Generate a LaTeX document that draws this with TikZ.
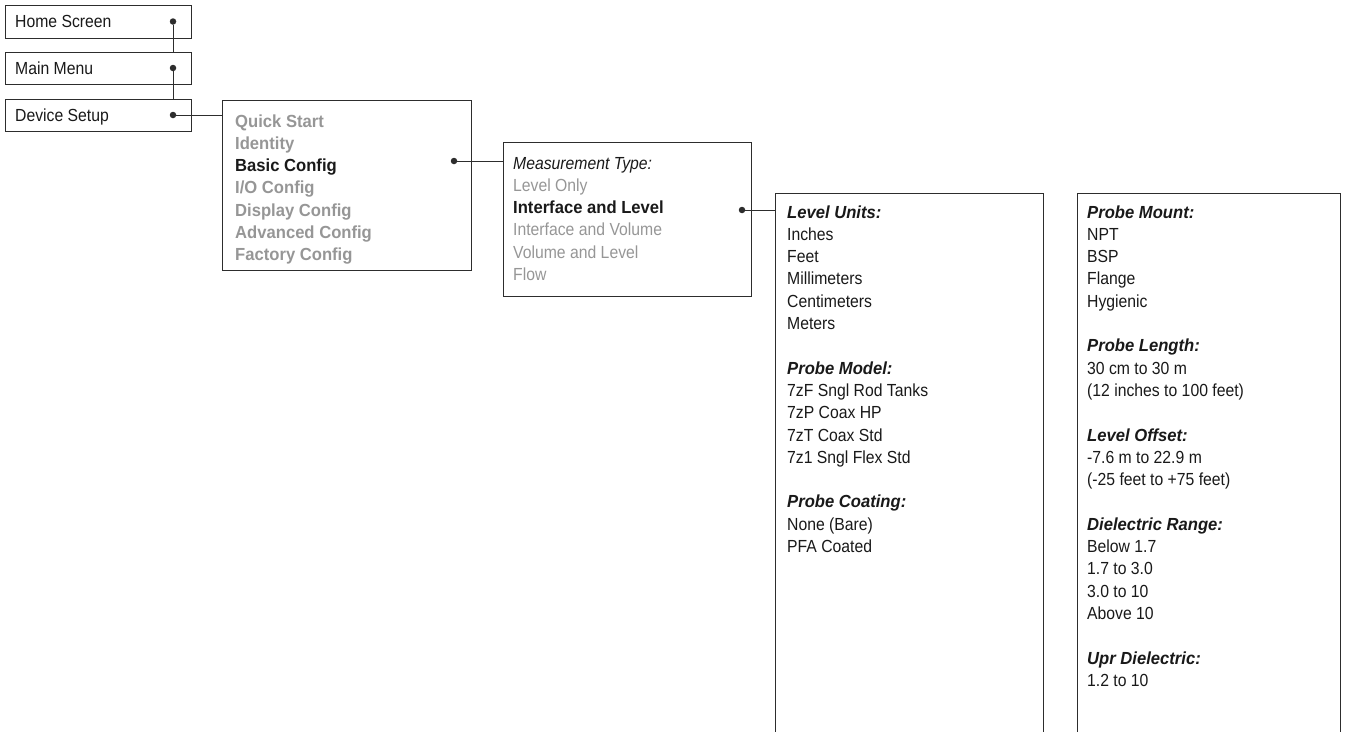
\documentclass[tikz,border=0pt]{standalone}
\usepackage{fontspec}
\setmainfont{Liberation Sans}[UprightFeatures={FakeStretch=0.9},ItalicFeatures={FakeStretch=0.9},BoldFeatures={FakeStretch=0.95},BoldItalicFeatures={FakeStretch=0.95}]
\definecolor{menugray}{RGB}{150,150,150}
\definecolor{linecol}{RGB}{45,45,45}
\definecolor{txtcol}{RGB}{25,25,25}
\begin{document}
\begin{tikzpicture}[x=1pt,y=-1pt,
  box/.style={draw=linecol,line width=1pt,rectangle,anchor=north west,inner sep=0pt},
  txt/.style={anchor=base west,align=left,inner sep=0pt,text=txtcol,font=\fontsize{17.5}{22.3}\selectfont},
  dotmark/.style={circle,fill=linecol,inner sep=0pt,minimum size=6.5pt},
  conn/.style={draw=linecol,line width=1pt}]
\useasboundingbox (0,0) rectangle (1346,731);
\clip (0,0) rectangle (1346,731);
% left column
\node[box,minimum width=186pt,minimum height=33pt] (home) at (5,5) {};
\node[txt] (homet) at (15,27.7) {Home Screen};
\node[dotmark] (homedot) at (173,21.5) {};
\node[box,minimum width=186pt,minimum height=32pt] (mm) at (5,52) {};
\node[txt] (mmt) at (15,74.7) {Main Menu};
\node[dotmark] (mmdot) at (173,68) {};
\node[box,minimum width=186pt,minimum height=32pt] (ds) at (5,99) {};
\node[txt] (dst) at (15,121.7) {Device Setup};
\node[dotmark] (dsdot) at (173,115) {};
% device setup menu (anchor = baseline of last line)
\node[box,minimum width=249pt,minimum height=170pt] (qs) at (222,100) {};
\node[txt,text=menugray,font=\fontsize{17.5}{22.3}\selectfont\bfseries] (qst) at (235,260.8) {Quick Start\\Identity\\\textcolor{txtcol}{Basic Config}\\I/O Config\\Display Config\\Advanced Config\\Factory Config};
\node[dotmark] (basicdot) at (454,161) {};
% measurement type
\node[box,minimum width=248pt,minimum height=154pt] (mt) at (503,142) {};
\node[txt,text=menugray] (mtt) at (513,280.5) {\textcolor{txtcol}{\itshape Measurement Type:}\\Level Only\\\textcolor{txtcol}{\bfseries Interface and Level}\\Interface and Volume\\Volume and Level\\Flow};
\node[dotmark] (ialdot) at (742,210) {};
% level units column
\node[box,minimum width=268pt,minimum height=560pt] (lu) at (775,193) {};
\node[txt] (lut) at (787,552.5) {\textbf{\textit{Level Units:}}\\Inches\\Feet\\Millimeters\\Centimeters\\Meters\\[22.3pt]\textbf{\textit{Probe Model:}}\\7zF Sngl Rod Tanks\\7zP Coax HP\\7zT Coax Std\\7z1 Sngl Flex Std\\[22.3pt]\textbf{\textit{Probe Coating:}}\\None (Bare)\\PFA Coated};
% probe mount column
\node[box,minimum width=263pt,minimum height=560pt] (pm) at (1077,193) {};
\node[txt] (pmt) at (1087,686.3) {\textbf{\textit{Probe Mount:}}\\NPT\\BSP\\Flange\\Hygienic\\[22.3pt]\textbf{\textit{Probe Length:}}\\30 cm to 30 m\\(12 inches to 100 feet)\\[22.3pt]\textbf{\textit{Level Offset:}}\\-7.6 m to 22.9 m\\(-25 feet to +75 feet)\\[22.3pt]\textbf{\textit{Dielectric Range:}}\\Below 1.7\\1.7 to 3.0\\3.0 to 10\\Above 10\\[22.3pt]\textbf{\textit{Upr Dielectric:}}\\1.2 to 10};
% connectors
\draw[conn] (homedot) -- (homedot |- mm.north);
\draw[conn] (mmdot) -- (mmdot |- ds.north);
\draw[conn] (dsdot) -- (dsdot -| qs.west);
\draw[conn] (basicdot) -- (basicdot -| mt.west);
\draw[conn] (ialdot) -- (ialdot -| lu.west);
\end{tikzpicture}
\end{document}
